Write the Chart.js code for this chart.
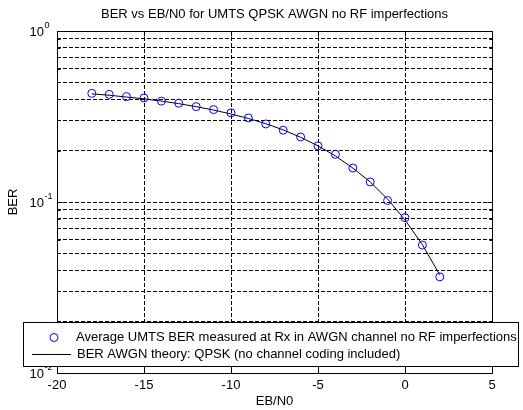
<!DOCTYPE html>
<html>
<head>
<meta charset="utf-8">
<title>BER vs EB/N0</title>
<script src="https://cdn.jsdelivr.net/npm/chart.js@4/dist/chart.umd.min.js"></script>
<style>
    html, body { margin: 0; padding: 0; background: #fff; }
    canvas { display: block; }
</style>
</head>
<body>
<canvas id="berChart" width="523" height="410"></canvas>
<script>
// Eb/N0 points (dB) of the simulation
const ebn0 = [-18, -17, -16, -15, -14, -13, -12, -11, -10, -9, -8, -7, -6, -5, -4, -3, -2, -1, 0, 1, 2];

const berMeasured = [0.432, 0.426, 0.413, 0.406, 0.389, 0.378, 0.361, 0.347, 0.332, 0.310, 0.286,
    0.263, 0.240, 0.213, 0.190, 0.158, 0.131, 0.102, 0.081, 0.056, 0.0365];

// QPSK AWGN theory curve
const berTheory = [0.429, 0.421, 0.411, 0.401, 0.389, 0.376, 0.361, 0.345, 0.327, 0.308, 0.287,
    0.264, 0.239, 0.213, 0.186, 0.158, 0.131, 0.104, 0.0786, 0.0563, 0.0375];

// Axis ticks
const xTicks = [-20, -15, -10, -5, 0, 5];
const yMajorTicks = [0.01, 0.1, 1];
const yMajorExponents = ['-2', '-1', '0'];
const yGridTicks = [0.01, 0.02, 0.03, 0.04, 0.05, 0.06, 0.07, 0.08, 0.09,
    0.1, 0.2, 0.3, 0.4, 0.5, 0.6, 0.7, 0.8, 0.9, 1];

const chartTitle = 'BER vs EB/N0 for UMTS QPSK AWGN no RF imperfections';
const legendLabels = [
    'Average UMTS BER measured at Rx in AWGN channel no RF imperfections',
    'BER AWGN theory: QPSK (no channel coding included)'
];

const FONT = '"Liberation Sans", Arial, Helvetica, sans-serif';
const MARKER_BLUE = '#0000ff';

Chart.defaults.font.family = FONT;
Chart.defaults.font.size = 13;
Chart.defaults.color = '#000';

// Title, box, inner tick marks, y labels with exponents and the legend, MATLAB style
const matlabAxesPlugin = {
    id: 'matlabAxes',
    afterDraw(chart) {
        const ctx = chart.ctx;
        const area = chart.chartArea;
        const xScale = chart.scales.x;
        const yScale = chart.scales.y;
        const left = Math.round(area.left) + 0.5;
        const right = Math.round(area.right) + 0.5;
        const top = Math.round(area.top) + 0.5;
        const bottom = Math.round(area.bottom) + 0.5;

        ctx.save();
        ctx.strokeStyle = '#000';
        ctx.lineWidth = 1;
        ctx.setLineDash([]);

        // title centred over the axes
        ctx.fillStyle = '#000';
        ctx.font = '13px ' + FONT;
        ctx.textAlign = 'center';
        ctx.textBaseline = 'middle';
        ctx.fillText(chartTitle, (area.left + area.right) / 2, 14);

        // inner tick marks
        ctx.beginPath();
        xTicks.forEach(v => {
            const px = Math.round(xScale.getPixelForValue(v)) + 0.5;
            ctx.moveTo(px, bottom); ctx.lineTo(px, bottom - 5);
            ctx.moveTo(px, top); ctx.lineTo(px, top + 5);
        });
        yGridTicks.forEach(v => {
            const py = Math.round(yScale.getPixelForValue(v)) + 0.5;
            const len = yMajorTicks.includes(v) ? 5 : 3;
            ctx.moveTo(left, py); ctx.lineTo(left + len, py);
            ctx.moveTo(right, py); ctx.lineTo(right - len, py);
        });
        ctx.stroke();

        // axes box
        ctx.strokeRect(left, top, right - left, bottom - top);

        // y labels 10^n
        yMajorTicks.forEach((v, i) => {
            const py = yScale.getPixelForValue(v);
            ctx.font = '13px ' + FONT;
            ctx.textAlign = 'right';
            ctx.textBaseline = 'middle';
            ctx.fillText('10', 44, py + 1);
            ctx.font = '9px ' + FONT;
            ctx.textAlign = 'left';
            ctx.fillText(yMajorExponents[i], 44.5, py - 5);
        });

        // legend box overlapping the axes
        const lx = 23.5, ly = 322.5, lw = 495, lh = 44;
        ctx.fillStyle = '#fff';
        ctx.fillRect(lx, ly, lw, lh);
        ctx.strokeRect(lx, ly, lw, lh);

        ctx.strokeStyle = MARKER_BLUE;
        ctx.beginPath();
        ctx.arc(54, 337.5, 4, 0, Math.PI * 2);
        ctx.stroke();

        ctx.strokeStyle = '#000';
        ctx.beginPath();
        ctx.moveTo(32, 354.5);
        ctx.lineTo(71, 354.5);
        ctx.stroke();

        ctx.fillStyle = '#000';
        ctx.font = '13px ' + FONT;
        ctx.textAlign = 'left';
        ctx.textBaseline = 'middle';
        ctx.fillText(legendLabels[0], 76, 337.5);
        ctx.fillText(legendLabels[1], 77, 354.5);
        ctx.restore();
    }
};

const gridStyle = {
    color: '#000',
    lineWidth: 1,
    drawTicks: false
};

new Chart(document.getElementById('berChart'), {
    type: 'scatter',
    data: {
        datasets: [{
            label: legendLabels[0],
            data: ebn0.map((x, i) => ({ x: x, y: berMeasured[i] })),
            showLine: false,
            pointStyle: 'circle',
            pointRadius: 4,
            pointBorderWidth: 1,
            pointBorderColor: MARKER_BLUE,
            pointBackgroundColor: 'rgba(0,0,0,0)'
        }, {
            label: legendLabels[1],
            data: ebn0.map((x, i) => ({ x: x, y: berTheory[i] })),
            showLine: true,
            borderColor: '#000',
            borderWidth: 1,
            pointRadius: 0,
            tension: 0
        }]
    },
    options: {
        responsive: false,
        animation: false,
        devicePixelRatio: 1,
        layout: {
            padding: { top: 31, right: 31, bottom: 0, left: 0 }
        },
        plugins: {
            legend: { display: false },
            tooltip: { enabled: false },
            title: { display: false }
        },
        scales: {
            x: {
                type: 'linear',
                min: -20,
                max: 5,
                afterBuildTicks: scale => {
                    scale.ticks = xTicks.map(v => ({ value: v }));
                },
                afterFit: scale => {
                    scale.height = 37;
                },
                ticks: {
                    padding: 5,
                    maxRotation: 0,
                    color: '#000'
                },
                grid: gridStyle,
                border: { display: false, dash: [4, 2] },
                title: {
                    display: true,
                    text: 'EB/N0',
                    color: '#000',
                    padding: { top: 0, bottom: 1 }
                }
            },
            y: {
                type: 'logarithmic',
                min: 0.01,
                max: 1,
                afterBuildTicks: scale => {
                    scale.ticks = yGridTicks.map(v => ({ value: v }));
                },
                afterFit: scale => {
                    scale.width = 57;
                },
                ticks: { display: false },
                grid: gridStyle,
                border: { display: false, dash: [4, 2] },
                title: {
                    display: true,
                    text: 'BER',
                    color: '#000',
                    padding: { top: 6, bottom: 0 }
                }
            }
        }
    },
    plugins: [matlabAxesPlugin]
});
</script>
</body>
</html>
